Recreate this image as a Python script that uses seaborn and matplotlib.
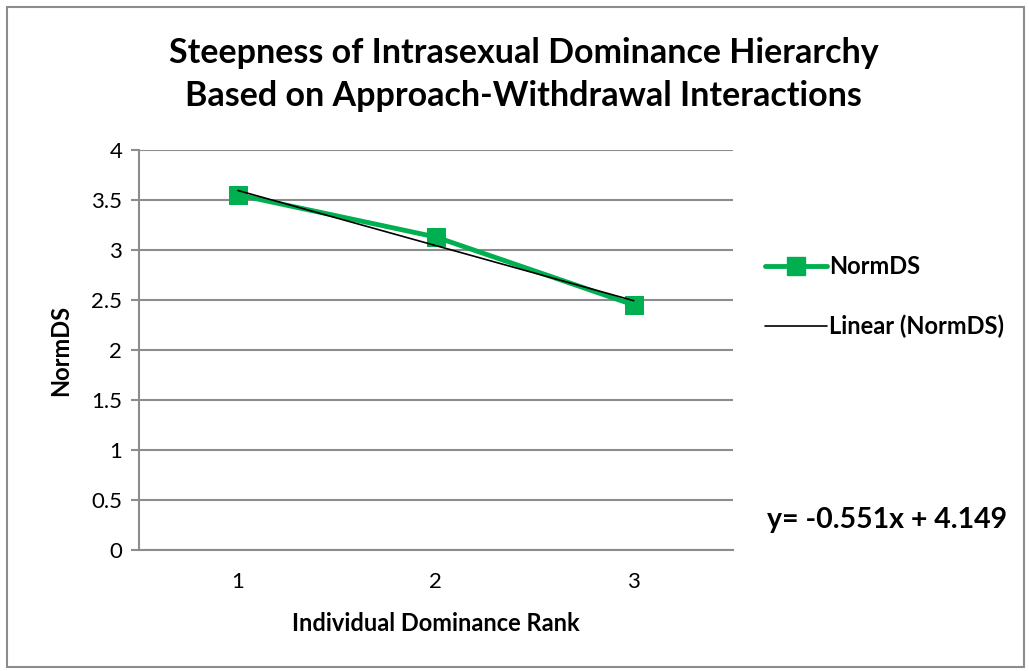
import numpy as np
import pandas as pd
import matplotlib
matplotlib.use("Agg")
import matplotlib.pyplot as plt
from matplotlib.lines import Line2D
from matplotlib.patches import Rectangle
import seaborn as sns

# data
ranks = [1, 2, 3]
norm_ds = [3.555, 3.133, 2.453]
trend_eq = "y= -0.551x + 4.149"

GREEN = "#00B050"
GRID = "#8C8C8C"

sns.set_style("white")
plt.rcParams["font.family"] = ["Lato", "DejaVu Sans"]
plt.rcParams["text.color"] = "black"
plt.rcParams["axes.labelcolor"] = "black"
plt.rcParams["xtick.labelcolor"] = "black"
plt.rcParams["ytick.labelcolor"] = "black"

df = pd.DataFrame({"rank": ranks, "NormDS": norm_ds})

fig = plt.figure(figsize=(10.29, 6.71), dpi=100)
ax = fig.add_axes([0.135, 0.180, 0.577, 0.596])

# outer chart frame
fig.patches.append(Rectangle((0.007, 0.006), 0.988, 0.984, transform=fig.transFigure,
                             fill=False, edgecolor="#8C8C8C", linewidth=1.5))

sns.lineplot(data=df, x="rank", y="NormDS", ax=ax, color=GREEN, linewidth=3.5,
             marker="s", markersize=13, markeredgecolor=GREEN, zorder=3)
sns.regplot(data=df, x="rank", y="NormDS", ax=ax, ci=None, scatter=False,
            truncate=True, line_kws=dict(color="black", linewidth=1.2, zorder=4))

ax.set_xlim(0.5, 3.5)
ax.set_ylim(0, 4)
ax.set_yticks(np.arange(0, 4.01, 0.5))
ax.set_yticklabels(["0", "0.5", "1", "1.5", "2", "2.5", "3", "3.5", "4"])
ax.set_xticks(ranks)
ax.set_xticks([0.5, 1.5, 2.5, 3.5], minor=True)
ax.tick_params(axis="x", which="major", length=0, pad=16, labelsize=16)
ax.tick_params(axis="x", which="minor", length=6, width=1.5, color=GRID, direction="out")
ax.tick_params(axis="y", length=6, width=1.5, color=GRID, direction="out",
               left=True, labelsize=16, pad=6)
ax.grid(axis="y", color=GRID, linewidth=1.5)
ax.grid(axis="x", visible=False)
for side in ["top", "right"]:
    ax.spines[side].set_visible(False)
for side in ["left", "bottom"]:
    ax.spines[side].set_color(GRID)
    ax.spines[side].set_linewidth(1.5)

ax.set_xlabel("Individual Dominance Rank", fontsize=17, fontweight="bold", labelpad=14)
ax.set_ylabel("NormDS", fontsize=17, fontweight="bold", labelpad=14)

fig.text(0.509, 0.889, "Steepness of Intrasexual Dominance Hierarchy\nBased on Approach-Withdrawal Interactions",
         ha="center", va="center", fontsize=24.5, fontweight="bold", linespacing=1.42)

handles = [Line2D([], [], color=GREEN, linewidth=3.5, marker="s", markersize=13),
           Line2D([], [], color="black", linewidth=1.2)]
leg = fig.legend(handles, ["NormDS", "Linear (NormDS)"], loc="center left",
                 bbox_to_anchor=(0.723, 0.558), frameon=False, handlelength=2.6,
                 handletextpad=0.1, labelspacing=1.55,
                 prop=dict(size=17, weight="bold"))

fig.text(0.862, 0.225, trend_eq, ha="center", va="center", fontsize=20.5, fontweight="bold")

fig.savefig("out.png", dpi=100)
